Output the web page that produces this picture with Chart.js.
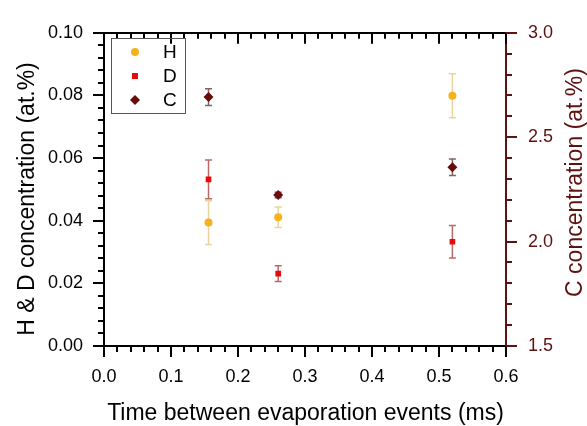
<!DOCTYPE html>
<html>
<head>
<meta charset="utf-8">
<script src="https://cdn.jsdelivr.net/npm/chart.js@4.4.1/dist/chart.umd.min.js"></script>
<style>
  html, body { margin: 0; padding: 0; background: #fff; }
  #chart { display: block; }
</style>
</head>
<body>
<canvas id="chart" width="587" height="426"></canvas>
<script>
// time between evaporation events (ms)
const times = [0.156, 0.26, 0.52];

// H & D concentration (at.%), left axis
const hConc = [0.0394, 0.0411, 0.0799];
const hErr = [0.007, 0.0033, 0.007];
const dConc = [0.0532, 0.0231, 0.0333];
const dErr = [0.0062, 0.0025, 0.0052];

// C concentration (at.%), right axis
const cConc = [2.692, 2.223, 2.356];
const cErr = [0.04, 0.013, 0.04];

const seriesLabels = ["H", "D", "C"];

const FONT = "'Liberation Sans', Arial, sans-serif";
const DARK_RED = "#5e1111";

const toPoints = (ys) => times.map((t, i) => ({ x: t, y: ys[i] }));

const isMajor = (v, step) => Math.abs(v / step - Math.round(v / step)) < 1e-6;

// error bars, drawn under the markers
const errorBarPlugin = {
  id: "errorBars",
  beforeDatasetsDraw(chart) {
    const ctx = chart.ctx;
    chart.data.datasets.forEach((ds, di) => {
      const meta = chart.getDatasetMeta(di);
      const yScale = chart.scales[ds.yAxisID];
      const xScale = chart.scales.x;
      ds.errors.forEach((e, i) => {
        const px = xScale.getPixelForValue(ds.data[i].x);
        const top = yScale.getPixelForValue(ds.data[i].y + e);
        const bot = yScale.getPixelForValue(ds.data[i].y - e);
        ctx.save();
        ctx.strokeStyle = ds.errorColor;
        ctx.lineWidth = 1.5;
        ctx.beginPath();
        ctx.moveTo(px, top);
        ctx.lineTo(px, bot);
        ctx.moveTo(px - 3.5, top);
        ctx.lineTo(px + 3.5, top);
        ctx.moveTo(px - 3.5, bot);
        ctx.lineTo(px + 3.5, bot);
        ctx.stroke();
        ctx.restore();
      });
    });
  },
};

// tick marks (major + minor), titles and legend box
const decorPlugin = {
  id: "decor",
  afterDraw(chart) {
    const ctx = chart.ctx;
    const area = chart.chartArea;
    const { x, x2, y, y2 } = chart.scales;

    const drawTicks = (scale, majorStep, horizontal, edge, dir, color) => {
      ctx.save();
      ctx.strokeStyle = color;
      ctx.lineWidth = 2;
      scale.ticks.forEach((t) => {
        const len = isMajor(t.value, majorStep) ? 11 : 6;
        const p = Math.round(scale.getPixelForValue(t.value));
        ctx.beginPath();
        if (horizontal) {
          ctx.moveTo(p, edge);
          ctx.lineTo(p, edge + dir * len);
        } else {
          ctx.moveTo(edge, p);
          ctx.lineTo(edge + dir * len, p);
        }
        ctx.stroke();
      });
      ctx.restore();
    };

    drawTicks(x, 0.1, true, area.bottom, 1, "#000");
    drawTicks(x2, 0.1, true, area.top, 1, "#000");
    drawTicks(y, 0.02, false, area.left, -1, "#000");
    drawTicks(y2, 0.5, false, area.right, 1, DARK_RED);

    // axis titles
    ctx.save();
    ctx.font = "23px " + FONT;
    ctx.fillStyle = "#000";
    ctx.textAlign = "center";
    ctx.textBaseline = "alphabetic";
    ctx.fillText("Time between evaporation events (ms)", 305.5, 420);

    ctx.translate(34, 199);
    ctx.rotate(-Math.PI / 2);
    ctx.fillText("H & D concentration (at.%)", 0, 0);
    ctx.restore();

    ctx.save();
    ctx.font = "23px " + FONT;
    ctx.fillStyle = DARK_RED;
    ctx.textAlign = "center";
    ctx.textBaseline = "alphabetic";
    ctx.translate(582, 182.5);
    ctx.rotate(-Math.PI / 2);
    ctx.fillText("C concentration (at.%)", 0, 0);
    ctx.restore();

    // legend
    const lx = 111, ly = 38, lw = 74, lh = 75;
    ctx.save();
    ctx.strokeStyle = "#555";
    ctx.lineWidth = 1;
    ctx.strokeRect(lx + 0.5, ly + 0.5, lw, lh);
    ctx.font = "19px " + FONT;
    ctx.textAlign = "left";
    ctx.textBaseline = "middle";
    chart.data.datasets.forEach((ds, i) => {
      const cy = 52 + i * 24;
      const cx = 135;
      ctx.fillStyle = ds.backgroundColor;
      ctx.beginPath();
      if (ds.pointStyle === "circle") {
        ctx.arc(cx, cy, ds.pointRadius, 0, Math.PI * 2);
      } else if (ds.pointStyle === "rect") {
        ctx.rect(cx - 3, cy - 3, 6, 6);
      } else {
        const r = ds.pointRadius;
        ctx.moveTo(cx, cy - r);
        ctx.lineTo(cx + r, cy);
        ctx.lineTo(cx, cy + r);
        ctx.lineTo(cx - r, cy);
        ctx.closePath();
      }
      ctx.fill();
      ctx.fillStyle = "#000";
      ctx.fillText(seriesLabels[i], 163, cy + 1);
    });
    ctx.restore();
  },
};

const ctx = document.getElementById("chart").getContext("2d");
new Chart(ctx, {
  type: "scatter",
  data: {
    datasets: [
      {
        label: seriesLabels[0],
        data: toPoints(hConc),
        errors: hErr,
        errorColor: "#e8d49c",
        yAxisID: "y",
        pointStyle: "circle",
        pointRadius: 4,
        backgroundColor: "#f6b21c",
        borderWidth: 0,
      },
      {
        label: seriesLabels[1],
        data: toPoints(dConc),
        errors: dErr,
        errorColor: "#b86868",
        yAxisID: "y",
        pointStyle: "rect",
        pointRadius: 4,
        backgroundColor: "#e8090b",
        borderWidth: 0,
      },
      {
        label: seriesLabels[2],
        data: toPoints(cConc),
        errors: cErr,
        errorColor: "#806262",
        yAxisID: "y2",
        pointStyle: "rectRot",
        pointRadius: 5,
        backgroundColor: "#6b0a0a",
        borderWidth: 0,
      },
    ],
  },
  options: {
    responsive: false,
    devicePixelRatio: 1,
    animation: false,
    layout: { padding: 0 },
    plugins: {
      legend: { display: false },
      tooltip: { enabled: false },
    },
    scales: {
      x: {
        type: "linear",
        position: "bottom",
        min: 0,
        max: 0.6,
        afterFit: (s) => { s.height = 80; },
        grid: { display: false, drawTicks: false },
        border: { display: true, color: "#000", width: 2 },
        ticks: {
          stepSize: 0.02,
          autoSkip: false,
          maxRotation: 0,
          padding: 20,
          color: "#000",
          font: { size: 18, family: FONT },
          callback: (v) => (isMajor(v, 0.1) ? v.toFixed(1) : ""),
        },
      },
      x2: {
        type: "linear",
        position: "top",
        min: 0,
        max: 0.6,
        afterFit: (s) => { s.height = 23; },
        grid: { display: false, drawTicks: false },
        border: { display: true, color: "#000", width: 2 },
        ticks: { stepSize: 0.02, autoSkip: false, display: false },
      },
      y: {
        type: "linear",
        position: "left",
        min: 0,
        max: 0.1,
        afterFit: (s) => { s.width = 104; },
        grid: { display: false, drawTicks: false },
        border: { display: true, color: "#000", width: 2 },
        ticks: {
          stepSize: 0.004,
          autoSkip: false,
          padding: 21,
          color: "#000",
          font: { size: 18, family: FONT },
          callback: (v) => (isMajor(v, 0.02) ? v.toFixed(2) : ""),
        },
      },
      y2: {
        type: "linear",
        position: "right",
        min: 1.5,
        max: 3.0,
        afterFit: (s) => { s.width = 81; },
        grid: { display: false, drawTicks: false },
        border: { display: true, color: DARK_RED, width: 2 },
        ticks: {
          stepSize: 0.1,
          autoSkip: false,
          padding: 22,
          color: DARK_RED,
          font: { size: 18, family: FONT },
          callback: (v) => (isMajor(v, 0.5) ? v.toFixed(1) : ""),
        },
      },
    },
  },
  plugins: [errorBarPlugin, decorPlugin],
});
</script>
</body>
</html>
